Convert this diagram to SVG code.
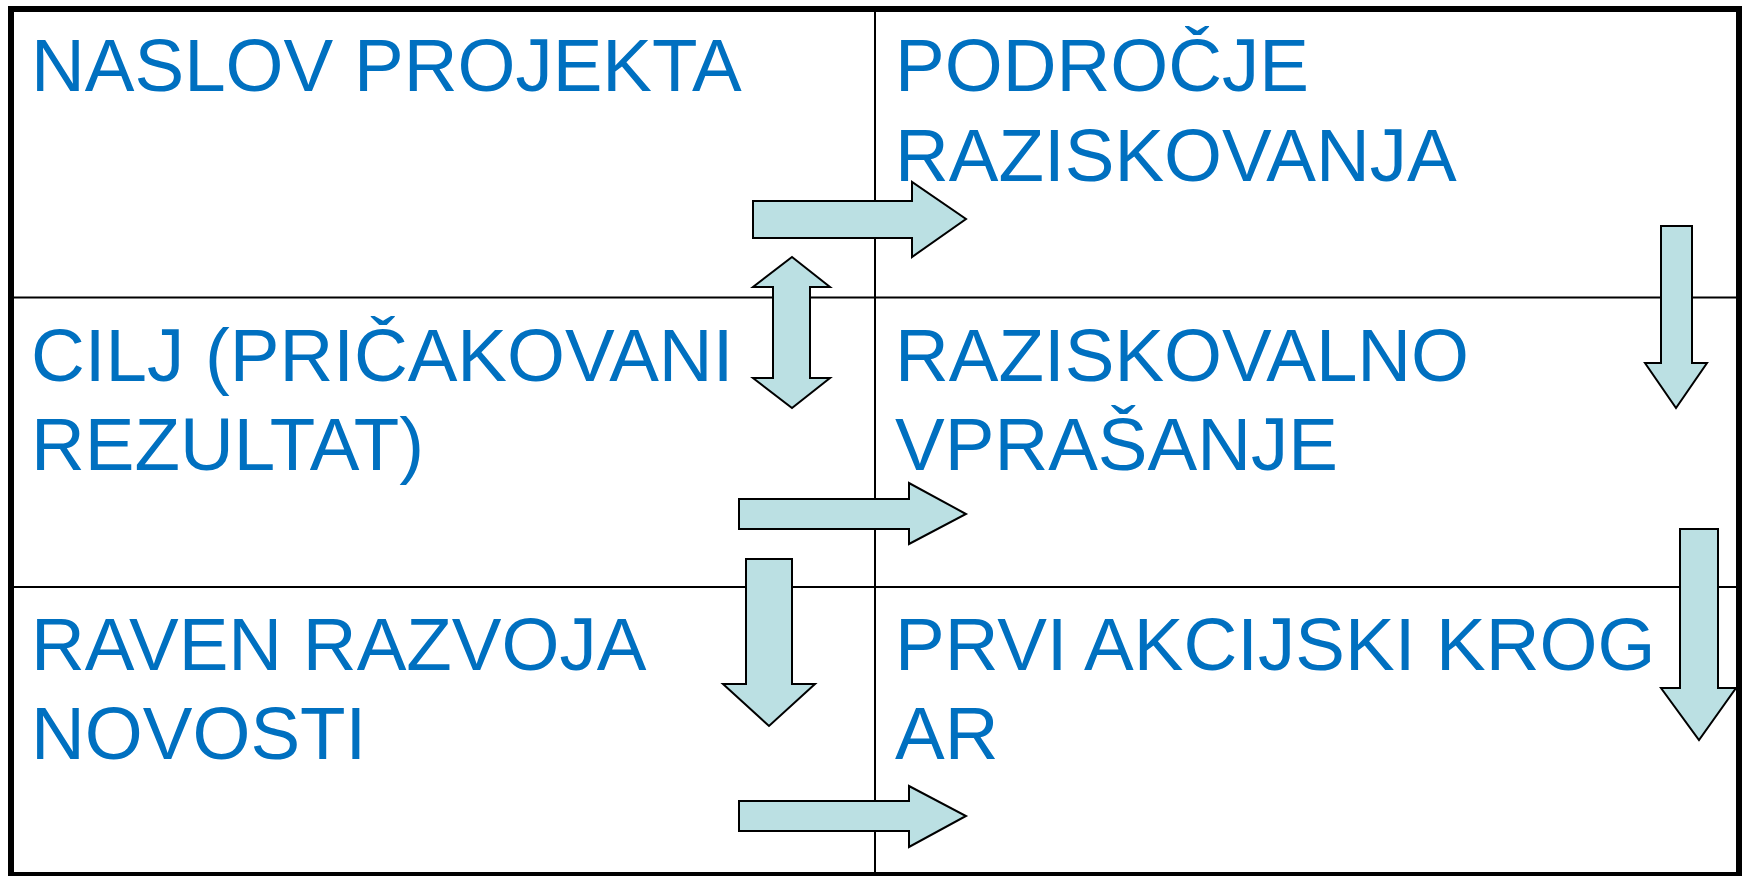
<svg xmlns="http://www.w3.org/2000/svg" width="1743" height="876" viewBox="0 0 1743 876">
<style>
.t{font-family:"Liberation Sans",Arial,sans-serif;font-size:74.5px;fill:#0070C0}
.g{stroke:#000;stroke-width:2;fill:none}
.a{fill:#BBE0E3;stroke:#000;stroke-width:2;stroke-linejoin:miter}
</style>
<rect width="1743" height="876" fill="#fff"/>
<g id="grid">
<line class="g" x1="875" y1="9" x2="875" y2="873"/>
<line class="g" x1="11" y1="297.5" x2="1739" y2="297.5"/>
<line class="g" x1="11" y1="587" x2="1739" y2="587"/>
<rect x="11" y="9" width="1728" height="866" fill="none" stroke="#000" stroke-width="6"/>
</g>
<g id="n1"><text class="t" x="31" y="91">NASLOV PROJEKTA</text></g>
<g id="n2"><text class="t" x="895" y="91">PODROČJE</text><text class="t" x="895" y="181">RAZISKOVANJA</text></g>
<g id="n3"><text class="t" x="31" y="381">CILJ (PRIČAKOVANI</text><text class="t" x="31" y="470">REZULTAT)</text></g>
<g id="n4"><text class="t" x="895" y="381">RAZISKOVALNO</text><text class="t" x="895" y="470">VPRAŠANJE</text></g>
<g id="n5"><text class="t" x="31" y="670">RAVEN RAZVOJA</text><text class="t" x="31" y="759">NOVOSTI</text></g>
<g id="n6"><text class="t" x="895" y="670">PRVI AKCIJSKI KROG</text><text class="t" x="895" y="759">AR</text></g>
<g id="connectors">
<polygon class="a" points="753,201 912,201 912,182 966,219 912,257 912,238 753,238"/>
<polygon class="a" points="792,257 830,287 810,287 810,378 830,378 792,408 753,378 773,378 773,287 753,287"/>
<polygon class="a" points="1661,226 1692,226 1692,363 1707,363 1676,408 1645,363 1661,363"/>
<polygon class="a" points="739,499 909,499 909,483 966,514 909,544 909,529 739,529"/>
<polygon class="a" points="746,559 792,559 792,684 815,684 769,726 723,684 746,684"/>
<polygon class="a" points="1680,529 1718,529 1718,688 1736,688 1699,740 1661,688 1680,688"/>
<polygon class="a" points="739,801 909,801 909,786 966,816 909,847 909,831 739,831"/>
</g>
</svg>
